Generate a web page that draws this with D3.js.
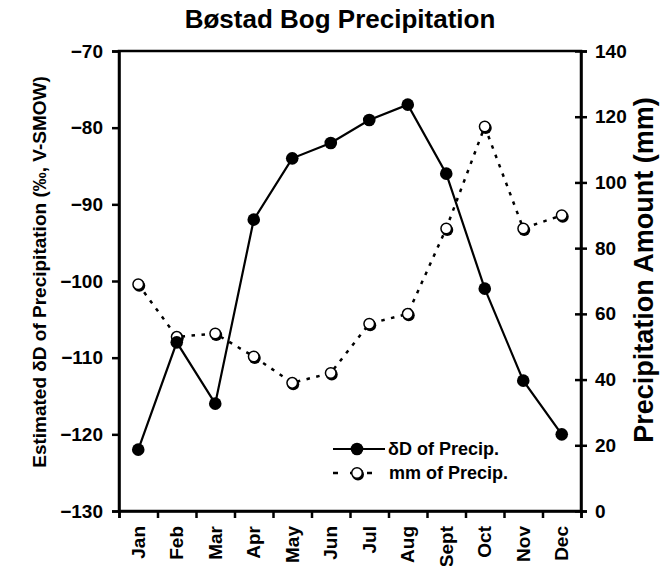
<!DOCTYPE html>
<html>
<head>
<meta charset="utf-8">
<script src="https://cdn.jsdelivr.net/npm/d3@7"></script>
<style>
  body { margin: 0; background: #fff; }
  svg { font-family: "Liberation Sans", Arial, sans-serif; font-weight: bold; }
</style>
</head>
<body>
<section></section>
<script>
var months = ['Jan', 'Feb', 'Mar', 'Apr', 'May', 'Jun', 'Jul', 'Aug', 'Sept', 'Oct', 'Nov', 'Dec'];
var deltaD = [-122, -108, -116, -92, -84, -82, -79, -77, -86, -101, -113, -120];
var precipMm = [69, 53, 54, 47, 39, 42, 57, 60, 86, 117, 86, 90];
var leftTicks = [-130, -120, -110, -100, -90, -80, -70];
var rightTicks = [0, 20, 40, 60, 80, 100, 120, 140];

let width = 667;
let height = 566;
let plotLeft = 119, plotRight = 581, plotTop = 51, plotBottom = 511;

var svg = d3.select('section').append('svg')
    .attr('width', width)
    .attr('height', height);

let xScale = d3.scaleBand().domain(months).range([plotLeft, plotRight]);
let xEdge = d3.scaleLinear().domain([0, months.length]).range([plotLeft, plotRight]);
let yLeft = d3.scaleLinear().domain([-130, -70]).range([plotBottom, plotTop]);
let yRight = d3.scaleLinear().domain([0, 140]).range([plotBottom, plotTop]);
var cx = d => xScale(d) + xScale.bandwidth() / 2;

// title
svg.append('text')
    .attr('x', 340).attr('y', 28)
    .attr('text-anchor', 'middle')
    .style('font-size', '26px')
    .text('Bøstad Bog Precipitation');

// frame
svg.append('rect')
    .attr('x', plotLeft).attr('y', plotTop)
    .attr('width', plotRight - plotLeft).attr('height', plotBottom - plotTop)
    .attr('fill', 'none').attr('stroke', '#000').attr('stroke-width', 2.5);

// left axis
var gl = svg.append('g')
    .attr('transform', 'translate(' + plotLeft + ',0)')
    .call(d3.axisLeft(yLeft).tickValues(leftTicks).tickSize(7).tickPadding(9));
// right axis, ticks cross the line
var gr = svg.append('g')
    .attr('transform', 'translate(' + plotRight + ',0)')
    .call(d3.axisRight(yRight).tickValues(rightTicks).tickSize(6).tickPadding(8));
gr.selectAll('.tick line').attr('x1', -6);

// bottom ticks at month edges
svg.append('g')
    .attr('transform', 'translate(0,' + plotBottom + ')')
    .call(d3.axisBottom(xEdge).tickValues(d3.range(0, 13)).tickFormat('').tickSize(7));
// month labels
var gx = svg.append('g')
    .attr('transform', 'translate(0,' + plotBottom + ')')
    .call(d3.axisBottom(xScale).tickSize(0));
gx.select('.domain').remove();
gx.selectAll('text')
    .attr('transform', 'rotate(-90)')
    .attr('x', -15).attr('y', 0).attr('dy', '0.35em')
    .attr('text-anchor', 'end');

svg.selectAll('.domain').attr('stroke-width', 2.5);
svg.selectAll('.tick line').attr('stroke-width', 2.5);
svg.selectAll('.tick text').style('font-size', '19px').attr('fill', '#000');

// axis titles
svg.append('text')
    .attr('transform', 'translate(46,272) rotate(-90)')
    .attr('text-anchor', 'middle')
    .style('font-size', '19px')
    .text('Estimated δD of Precipitation (‰, V-SMOW)');
svg.append('text')
    .attr('transform', 'translate(653,270) rotate(-90)')
    .attr('text-anchor', 'middle')
    .style('font-size', '27px')
    .text('Precipitation Amount (mm)');

// precipitation, dotted
var precipLine = d3.line().x((d, i) => cx(months[i])).y(d => yRight(d));
svg.append('path')
    .datum(precipMm)
    .attr('d', precipLine)
    .attr('fill', 'none').attr('stroke', '#000')
    .attr('stroke-width', 2.5).attr('stroke-dasharray', '3.5,6.5');

// deltaD, solid
var dLine = d3.line().x((d, i) => cx(months[i])).y(d => yLeft(d));
svg.append('path')
    .datum(deltaD)
    .attr('d', dLine)
    .attr('fill', 'none').attr('stroke', '#000').attr('stroke-width', 2.2);

function openDot(g, x, y) {
    g.append('circle').attr('cx', x + 1).attr('cy', y + 1.5).attr('r', 6).attr('fill', '#000');
    g.append('circle').attr('cx', x).attr('cy', y).attr('r', 5.3)
        .attr('fill', '#fff').attr('stroke', '#000').attr('stroke-width', 1.5);
}

var openG = svg.append('g');
precipMm.forEach((d, i) => openDot(openG, cx(months[i]), yRight(d)));

svg.append('g').selectAll('circle')
    .data(deltaD)
    .enter()
    .append('circle')
    .attr('cx', (d, i) => cx(months[i]))
    .attr('cy', d => yLeft(d))
    .attr('r', 6.3);

// legend
var lg = svg.append('g');
lg.append('line').attr('x1', 333).attr('x2', 385).attr('y1', 449).attr('y2', 449)
    .attr('stroke', '#000').attr('stroke-width', 2.2);
lg.append('circle').attr('cx', 357).attr('cy', 449).attr('r', 6.3);
lg.append('text').attr('x', 388).attr('y', 455).style('font-size', '18px').text('δD of Precip.');
lg.append('line').attr('x1', 333).attr('x2', 381).attr('y1', 473).attr('y2', 473)
    .attr('stroke', '#000').attr('stroke-width', 2.5).attr('stroke-dasharray', '5,12');
openDot(lg, 357, 473);
lg.append('text').attr('x', 389).attr('y', 479).style('font-size', '18px').text('mm of Precip.');
</script>
</body>
</html>
